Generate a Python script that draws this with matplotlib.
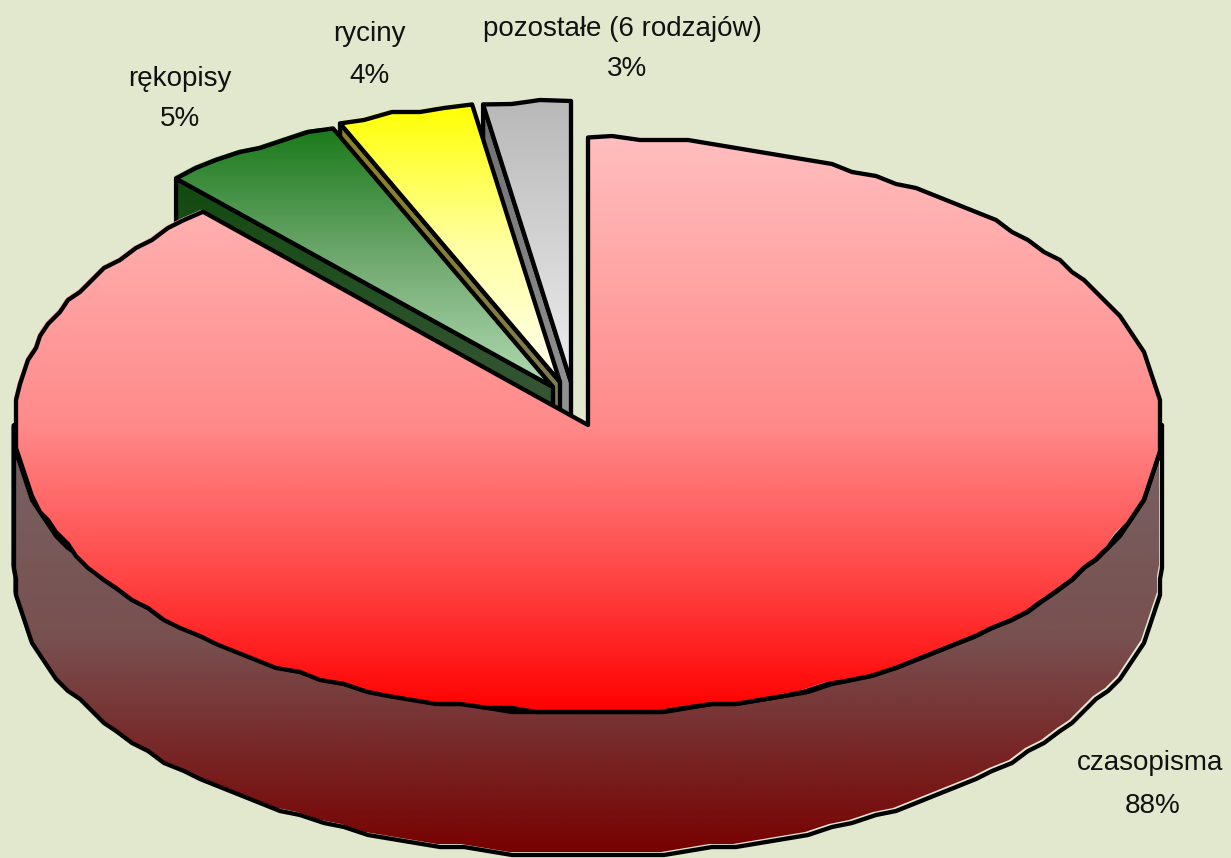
#!/usr/bin/env python3
"""Exploded 3D pie: share of holdings by type, drawn on a pixel canvas"""

import numpy as np
import matplotlib
matplotlib.use("Agg")
import matplotlib.pyplot as plt
from matplotlib.colors import LinearSegmentedColormap
from matplotlib.patches import Polygon

# data
categories = ['czasopisma', 'rękopisy', 'ryciny', 'pozostałe (6 rodzajów)']
shares = [88.3, 5.3, 3.9, 2.5]   # as measured from the slice angles
pct_labels = ['88%', '5%', '4%', '3%']

# gradients per slice: top face and wall, far to near
top_colors = [('#FFBEBE', '#FFA4A4', '#FF8A8A', '#FF4A4A', '#FF0000'),
              ('#1A7A1A', '#6FA86F', '#B2DAB2'),
              ('#FFFF00', '#FFFFA0', '#FFFFF0'),
              ('#B8B8B8', '#EEEEEE')]
wall_colors = [('#786464', '#785050', '#780000'), ('#124A10', '#4A5C4A'),
               ('#8F8420', '#77776A'), ('#707070', '#A0A0A0')]

# layout, in pixels
W, H = 1231, 858
BG = '#E2E8CD'
CX, CY = 588, 425
RX, RY = 574, 287.5
RX2, RY2 = 562, 281      # pulled-out slices are drawn a little smaller
DEPTH = 143
apexes = [(CX, CY), (553, 387), (560, 382), (571, 382)]
name_pos = [(1150, 763), (180, 79), (369, 34), (622, 29)]
pct_pos = [(1153, 806), (180, 119), (369, 76), (627, 69)]
GRID = 4                 # outline coordinates are coarse in the original
LW = 3.1

fig = plt.figure(figsize=(W / 100, H / 100), dpi=100, facecolor=BG)
ax = fig.add_axes([0, 0, 1, 1])
ax.set_xlim(0, W)
ax.set_ylim(H, 0)
ax.axis('off')


def arc(cx, cy, rx, ry, a0, a1):
    """Points along an ellipse, snapped to a coarse grid"""
    n = max(int(abs(a1 - a0) / 2.5), 2)
    t = np.radians(np.linspace(a0, a1, n + 1))
    pts = np.column_stack([cx + rx * np.cos(t), cy - ry * np.sin(t)])
    inner = np.round(pts[1:-1] / GRID) * GRID
    return np.vstack([pts[:1], inner, pts[-1:]])


def shape(pts, colors, zorder, off=2.0):
    """Gradient fill plus black outline, fill sits slightly up-left of the line"""
    pts = np.asarray(pts)
    fill = pts - off
    y0, y1 = pts[:, 1].min(), pts[:, 1].max()
    cmap = LinearSegmentedColormap.from_list('g', colors)
    grad = np.linspace(0, 1, 256).reshape(-1, 1)
    clip = Polygon(fill, closed=True, transform=ax.transData, fc='none', ec='none')
    ax.add_patch(clip)
    im = ax.imshow(grad, cmap=cmap, extent=(0, W, y1, y0), aspect='auto', zorder=zorder,
                   interpolation='bilinear')
    im.set_clip_path(clip)
    ax.add_patch(Polygon(pts, closed=True, fc='none', ec='black', lw=LW,
                         joinstyle='round', zorder=zorder + 0.1))


# angles run clockwise from 12 o'clock
angles = 90 - np.cumsum([0] + shares) * 3.6

# small slices first, back to front, the big one goes over them
z = 2
for i in [3, 2, 1]:
    ax_, ay_ = apexes[i]
    edge = arc(ax_, ay_, RX2, RY2, angles[i + 1], angles[i])
    left = edge[0] if np.cos(np.radians(angles[i + 1])) < np.cos(np.radians(angles[i])) else edge[-1]
    wall = [(ax_, ay_), tuple(left), (left[0], left[1] + DEPTH), (ax_, ay_ + DEPTH)]
    shape(wall, wall_colors[i], z)
    shape(np.vstack([[(ax_, ay_)], edge]), top_colors[i], z + 1)
    z += 2

# big slice: rim, then top
front = arc(CX, CY, RX, RY, 180, 360)
rim = np.vstack([front, (front + [0, DEPTH])[::-1]])
shape(rim, wall_colors[0], z, off=3.0)
top = arc(CX, CY, RX, RY, angles[1], angles[0])
shape(np.vstack([[(CX, CY)], top]), top_colors[0], z + 1)

# labels
for name, pct, pos1, pos2 in zip(categories, pct_labels, name_pos, pct_pos):
    ax.text(pos1[0], pos1[1], name, ha='center', va='center', fontsize=20,
            family='Liberation Sans', color='#111111', zorder=20)
    ax.text(pos2[0], pos2[1], pct, ha='center', va='center', fontsize=20,
            family='Liberation Sans', color='#111111', zorder=20)

fig.savefig('out.png', dpi=100, facecolor=BG)
